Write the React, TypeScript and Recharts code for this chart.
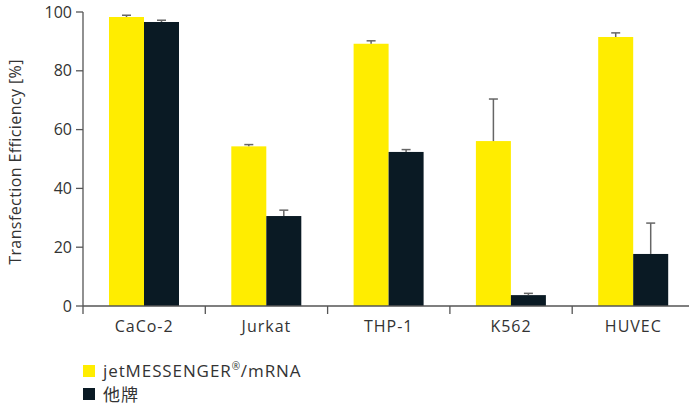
import { BarChart, Bar, XAxis, YAxis, Legend } from "recharts";

const categories = ["CaCo-2", "Jurkat", "THP-1", "K562", "HUVEC"];
const jetValues = [98.3, 54.3, 89.2, 56.1, 91.5];
const jetErrors = [0.6, 0.6, 1.0, 14.3, 1.4];
const otherValues = [96.6, 30.6, 52.4, 3.7, 17.7];
const otherErrors = [0.6, 2.0, 0.8, 0.6, 10.5];
const yTicks = [0, 20, 40, 60, 80, 100];

const JET_NAME = "jetMESSENGER®/mRNA";
const OTHER_NAME = "他牌";

const YELLOW = "#ffed00";
const DARK = "#0a1a24";
const AXIS = "#555";
const ERR = "#666";
const TEXT = "#333";
const FONT = "'Open Sans', 'Noto Sans CJK SC', sans-serif";

const CHART_W = 700;
const CHART_H = 405;
const MARGIN = { top: 12, right: 5.5, bottom: 0, left: 0 };
const Y_AXIS_W = 83;
const BAND_W = (CHART_W - MARGIN.left - MARGIN.right - Y_AXIS_W) / categories.length;

const data = categories.map((name, i) => ({
  name,
  jet: jetValues[i],
  jetErr: jetErrors[i],
  other: otherValues[i],
  otherErr: otherErrors[i],
}));

// bar plus an upper-only error whisker, scaled from the bar's own pixel height
const makeShape = (valueKey: string, errKey: string) => (props: any) => {
  const { x, y, width, height, fill, payload } = props;
  const value = payload[valueKey];
  const err = payload[errKey];
  const pxPerUnit = value ? height / value : 0;
  const top = y - err * pxPerUnit;
  const cx = x + width / 2;
  return (
    <g>
      <rect x={x} y={y} width={width} height={height} fill={fill} />
      <line x1={cx} x2={cx} y1={y} y2={top} stroke={ERR} strokeWidth={1.5} />
      <line x1={cx - 4.5} x2={cx + 4.5} y1={top} y2={top} stroke={ERR} strokeWidth={1.5} />
    </g>
  );
};

// category labels centred, tick marks on the band edges
const XTick = ({ x, y, payload, index }: any) => {
  const left = x - BAND_W / 2;
  const right = x + BAND_W / 2;
  return (
    <g>
      <line x1={left} x2={left} y1={y} y2={y + 8} stroke={AXIS} strokeWidth={1.3} />
      {index === categories.length - 1 && (
        <line x1={right} x2={right} y1={y} y2={y + 8} stroke={AXIS} strokeWidth={1.3} />
      )}
      <text x={x} y={y + 26} textAnchor="middle" fontSize={16} fill={TEXT} fontFamily={FONT} letterSpacing={1}>
        {payload.value}
      </text>
    </g>
  );
};

const YLabel = ({ viewBox }: any) => {
  const cx = 15;
  const cy = viewBox.y + viewBox.height / 2 + 3;
  return (
    <text
      x={cx}
      y={cy}
      transform={`rotate(-90 ${cx} ${cy})`}
      textAnchor="middle"
      dominantBaseline="central"
      fontSize={16}
      fill={TEXT}
      fontFamily={FONT}
      letterSpacing={0.4}
    >
      Transfection Efficiency [%]
    </text>
  );
};

const LegendBox = () => {
  const row = (color: string, label: React.ReactNode) => (
    <div style={{ display: "flex", alignItems: "center", height: 23 }}>
      <span style={{ width: 12, height: 12, background: color, marginRight: 8, display: "inline-block" }} />
      <span style={{ fontSize: 17, color: TEXT, letterSpacing: 0.9 }}>{label}</span>
    </div>
  );
  return (
    <div style={{ height: 46, paddingLeft: 83, fontFamily: FONT }}>
      {row(YELLOW, <>jetMESSENGER<sup style={{ fontSize: 10 }}>®</sup>/mRNA</>)}
      {row(DARK, OTHER_NAME)}
    </div>
  );
};

export default function App() {
  return (
    <div style={{ position: "absolute", left: 0, top: 0, width: 689, height: 405, overflow: "hidden", background: "#fff" }}>
      <BarChart width={CHART_W} height={CHART_H} data={data} margin={MARGIN} barCategoryGap={26} barGap={0}>
        <XAxis
          dataKey="name"
          height={53}
          interval={0}
          tickSize={0}
          tickMargin={0}
          tick={<XTick />}
          axisLine={{ stroke: AXIS, strokeWidth: 1.3 }}
        />
        <YAxis
          domain={[0, 100]}
          ticks={yTicks}
          width={Y_AXIS_W}
          tickSize={7}
          tickMargin={4}
          tick={{ fontSize: 16, fill: TEXT, fontFamily: FONT }}
          axisLine={{ stroke: AXIS, strokeWidth: 1.3 }}
          tickLine={{ stroke: AXIS, strokeWidth: 1.3 }}
          label={{ content: <YLabel /> }}
        />
        <Legend verticalAlign="bottom" align="left" content={<LegendBox />} />
        <Bar dataKey="jet" name={JET_NAME} fill={YELLOW} isAnimationActive={false} shape={makeShape("jet", "jetErr")} />
        <Bar dataKey="other" name={OTHER_NAME} fill={DARK} isAnimationActive={false} shape={makeShape("other", "otherErr")} />
      </BarChart>
    </div>
  );
}
